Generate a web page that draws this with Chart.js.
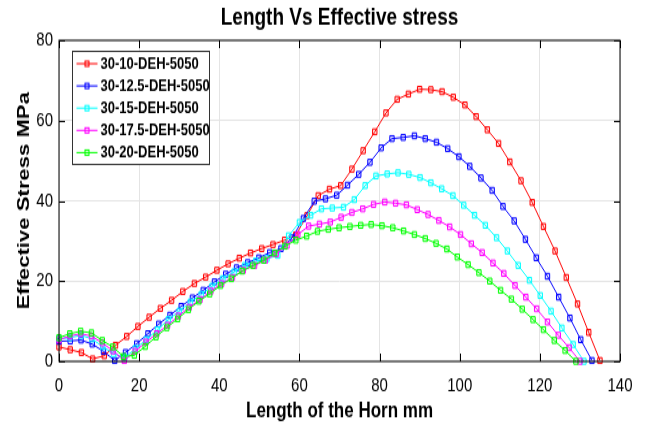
<!DOCTYPE html>
<html>
<head>
<meta charset="utf-8">
<script src="https://cdn.jsdelivr.net/npm/chart.js@4.4.1/dist/chart.umd.min.js"></script>
<style>
  html, body { margin: 0; padding: 0; background: #fff; }
</style>
</head>
<body>
<!-- drawn at 327px high and shown at 425px, the reference figure is stretched vertically the same way -->
<canvas id="chart" width="647" height="327" style="width:647px;height:425px;display:block"></canvas>
<script>
const seriesLabels = ['30-10-DEH-5050', '30-12.5-DEH-5050', '30-15-DEH-5050', '30-17.5-DEH-5050', '30-20-DEH-5050']
const seriesColors = ['#ff0000', '#0000ff', '#00ffff', '#ff00ff', '#00ff00']

// length of the horn (mm) for every sample, per series
const len10 = [0, 2.8, 5.6, 8.4, 11.3, 14.1, 16.9, 19.7, 22.5, 25.3, 28.1, 30.9, 33.8, 36.6, 39.4, 42.2, 45.0, 47.8, 50.6, 53.4,
  56.3, 59.1, 61.9, 64.7, 67.5, 70.3, 73.1, 75.9, 78.8, 81.6, 84.4, 87.2, 90.0, 92.8, 95.6, 98.4, 101.3, 104.1, 106.9, 109.7,
  112.5, 115.3, 118.1, 120.9, 123.8, 126.6, 129.4, 132.2, 135.0]
const len125 = [0, 2.8, 5.5, 8.3, 11.1, 13.9, 16.6, 19.4, 22.2, 24.9, 27.7, 30.5, 33.3, 36.0, 38.8, 41.6, 44.3, 47.1, 49.9, 52.6,
  55.4, 58.2, 61.0, 63.7, 66.5, 69.3, 72.0, 74.8, 77.6, 80.4, 83.1, 85.9, 88.7, 91.4, 94.2, 97.0, 99.8, 102.5, 105.3, 108.1,
  110.8, 113.6, 116.4, 119.1, 121.9, 124.7, 127.5, 130.2, 133.0]
const len15 = [0, 2.7, 5.5, 8.2, 10.9, 13.6, 16.4, 19.1, 21.8, 24.6, 27.3, 30.0, 32.8, 35.5, 38.2, 40.9, 43.7, 46.4, 49.1, 51.9,
  54.6, 57.3, 60.0, 62.8, 65.5, 68.2, 71.0, 73.7, 76.4, 79.1, 81.9, 84.6, 87.3, 90.1, 92.8, 95.5, 98.3, 101.0, 103.7, 106.4,
  109.2, 111.9, 114.6, 117.4, 120.1, 122.8, 125.5, 128.3, 131.0]
const len175 = [0, 2.7, 5.4, 8.1, 10.8, 13.5, 16.3, 19.0, 21.7, 24.4, 27.1, 29.8, 32.5, 35.2, 37.9, 40.6, 43.3, 46.0, 48.8, 51.5,
  54.2, 56.9, 59.6, 62.3, 65.0, 67.7, 70.4, 73.1, 75.8, 78.5, 81.3, 84.0, 86.7, 89.4, 92.1, 94.8, 97.5, 100.2, 102.9, 105.6,
  108.3, 111.0, 113.8, 116.5, 119.2, 121.9, 124.6, 127.3, 130.0]
const len20 = [0, 2.7, 5.4, 8.1, 10.8, 13.4, 16.1, 18.8, 21.5, 24.2, 26.9, 29.6, 32.3, 34.9, 37.6, 40.3, 43.0, 45.7, 48.4, 51.1,
  53.8, 56.4, 59.1, 61.8, 64.5, 67.2, 69.9, 72.6, 75.3, 77.9, 80.6, 83.3, 86.0, 88.7, 91.4, 94.1, 96.8, 99.4, 102.1, 104.8,
  107.5, 110.2, 112.9, 115.6, 118.3, 120.9, 123.6, 126.3, 129.0]

// effective stress (MPa)
const stress10 = [3.6, 2.9, 2.2, 0.6, 1.4, 4.0, 6.2, 8.7, 11.0, 13.2, 15.2, 17.4, 19.4, 21.0, 22.7, 24.3, 25.7, 27.0, 28.1, 29.1,
  30.2, 31.5, 36.3, 41.3, 42.9, 43.8, 47.9, 52.5, 57.2, 61.9, 65.3, 66.6, 67.8, 67.7, 67.2, 65.8, 63.9, 61.0, 57.7, 54.3,
  49.7, 45.0, 39.6, 33.6, 27.5, 20.9, 14.3, 7.2, 0.2]
const stress125 = [5.0, 5.1, 5.3, 4.3, 2.5, 0.2, 2.2, 4.4, 6.9, 9.3, 11.5, 13.7, 15.8, 17.7, 19.8, 21.7, 23.3, 24.6, 25.8, 27.1,
  28.1, 30.8, 35.6, 39.9, 40.5, 41.4, 43.9, 46.6, 49.6, 53.2, 55.5, 55.8, 56.2, 55.5, 54.6, 53.0, 51.0, 48.6, 45.7, 42.6,
  38.6, 35.0, 30.4, 25.8, 21.2, 16.0, 10.8, 5.4, 0.2]
const stress15 = [5.6, 5.9, 6.5, 5.6, 3.7, 1.9, 0.9, 3.2, 5.4, 7.9, 10.4, 12.5, 14.8, 16.7, 18.7, 20.6, 22.3, 23.9, 25.0, 25.6,
  26.4, 31.3, 34.6, 36.4, 38.0, 38.2, 38.4, 40.3, 43.8, 46.2, 46.7, 47.0, 46.6, 45.8, 44.5, 43.0, 41.3, 38.9, 36.4, 33.9,
  30.8, 27.5, 23.9, 20.2, 16.4, 12.5, 8.3, 4.2, 0]
const stress175 = [5.4, 6.3, 6.9, 6.3, 4.6, 2.6, 0.2, 2.5, 4.8, 6.9, 9.0, 11.3, 13.5, 15.4, 17.5, 19.4, 20.9, 22.7, 23.9, 25.2,
  26.8, 28.9, 31.6, 33.7, 34.2, 34.7, 35.9, 37.1, 38.0, 39.1, 39.7, 39.4, 39.0, 37.8, 36.6, 35.1, 33.5, 31.6, 29.3, 27.1,
  24.5, 21.9, 18.9, 16.0, 13.1, 9.8, 6.5, 3.4, 0]
const stress20 = [5.9, 6.9, 7.5, 7.1, 5.2, 3.6, 1.2, 1.5, 3.7, 6.1, 8.4, 10.6, 12.9, 15.0, 16.8, 18.9, 20.6, 22.5, 23.9, 25.2,
  27.0, 28.7, 30.2, 31.2, 32.4, 32.9, 33.3, 33.6, 33.9, 34.1, 33.8, 33.3, 32.5, 31.6, 30.6, 29.4, 28.0, 26.0, 24.1, 22.1,
  20.0, 17.7, 15.5, 13.0, 10.4, 7.9, 5.2, 2.7, 0]

const xTicks = [0, 20, 40, 60, 80, 100, 120, 140]
const yTicks = [0, 20, 40, 60, 80]

const lengths = [len10, len125, len15, len175, len20]
const stresses = [stress10, stress125, stress15, stress175, stress20]

const FONT = "'Liberation Sans', Arial, Helvetica, sans-serif"
const TICK = 6

Chart.defaults.font.family = FONT
Chart.defaults.color = '#000'

const withAlpha = (hex, a) => {
  const n = parseInt(hex.slice(1), 16)
  return `rgba(${n >> 16}, ${(n >> 8) & 255}, ${n & 255}, ${a})`
}

// MATLAB-like box: full frame, inward ticks on all four sides, legend inside the axes
const axesBox = {
  id: 'axesBox',
  afterDraw(chart) {
    const { ctx, chartArea: a, scales: { x, y } } = chart
    ctx.save()
    ctx.strokeStyle = '#000'
    ctx.lineWidth = 1
    ctx.strokeRect(a.left, a.top, a.right - a.left, a.bottom - a.top)
    ctx.beginPath()
    x.ticks.forEach(t => {
      const px = Math.round(x.getPixelForValue(t.value)) + 0.5
      ctx.moveTo(px, a.bottom); ctx.lineTo(px, a.bottom - TICK)
      ctx.moveTo(px, a.top); ctx.lineTo(px, a.top + TICK)
    })
    y.ticks.forEach(t => {
      const py = Math.round(y.getPixelForValue(t.value)) + 0.5
      ctx.moveTo(a.left, py); ctx.lineTo(a.left + TICK, py)
      ctx.moveTo(a.right, py); ctx.lineTo(a.right - TICK, py)
    })
    ctx.stroke()

    // legend
    const bx = a.left + 13.5
    const by = a.top + 8.5
    ctx.fillStyle = '#fff'
    ctx.fillRect(bx, by, 137, 87)
    ctx.strokeStyle = '#333'
    ctx.strokeRect(bx, by, 137, 87)
    ctx.font = `bold 13px ${FONT}`
    ctx.textBaseline = 'middle'
    chart.data.datasets.forEach((ds, i) => {
      const ly = by + 9.5 + i * 17.1
      ctx.strokeStyle = ds.borderColor
      ctx.beginPath()
      ctx.moveTo(bx + 4, ly); ctx.lineTo(bx + 25, ly)
      ctx.stroke()
      ctx.fillStyle = ds.pointBackgroundColor
      ctx.fillRect(bx + 12.5, ly - 2, 4, 4)
      ctx.strokeRect(bx + 12.5, ly - 2, 4, 4)
      ctx.fillStyle = '#000'
      ctx.fillText(ds.label, bx + 28, ly + 0.5)
    })
    ctx.restore()
  }
}

const datasets = seriesLabels.map((label, i) => ({
  label,
  data: lengths[i].map((x, k) => ({ x, y: stresses[i][k] })),
  borderColor: seriesColors[i],
  backgroundColor: seriesColors[i],
  borderWidth: 1,
  pointStyle: 'rect',
  pointRadius: 3.1,
  pointBorderWidth: 1,
  pointBorderColor: seriesColors[i],
  pointBackgroundColor: withAlpha(seriesColors[i], 0.12),
  tension: 0,
  clip: false,
  order: seriesLabels.length - i
}))

new Chart(document.getElementById('chart'), {
  type: 'line',
  data: { datasets },
  plugins: [axesBox],
  options: {
    responsive: false,
    animation: false,
    devicePixelRatio: 1,
    layout: { padding: { left: 0, right: 27, top: 0, bottom: 0 } },
    plugins: {
      legend: { display: false },
      tooltip: { enabled: false },
      title: {
        display: true,
        fullSize: false,
        text: 'Length Vs Effective stress',
        color: '#000',
        font: { size: 19, weight: 'bold' },
        padding: { top: 2.5, bottom: 5.7 }
      }
    },
    scales: {
      x: {
        type: 'linear',
        min: 0,
        max: 140,
        afterBuildTicks: scale => { scale.ticks = xTicks.map(value => ({ value })) },
        afterFit: scale => { scale.height = 49 },
        grid: { color: '#e4e4e4', lineWidth: 1, drawTicks: false },
        border: { display: false },
        ticks: { padding: 10, font: { size: 15 }, color: '#000' },
        title: {
          display: true,
          text: 'Length of the Horn mm',
          color: '#000',
          font: { size: 17, weight: 'bold' },
          padding: { top: 0, bottom: 0 }
        }
      },
      y: {
        type: 'linear',
        min: 0,
        max: 80,
        afterBuildTicks: scale => { scale.ticks = yTicks.map(value => ({ value })) },
        afterFit: scale => { scale.width = 59 },
        grid: { color: '#e4e4e4', lineWidth: 1, drawTicks: false },
        border: { display: false },
        ticks: { padding: 6, font: { size: 15 }, color: '#000' },
        title: {
          display: true,
          text: 'Effective Stress MPa',
          color: '#000',
          font: { size: 17, weight: 'bold' },
          padding: { top: 14, bottom: 0 }
        }
      }
    }
  }
})
</script>
</body>
</html>
